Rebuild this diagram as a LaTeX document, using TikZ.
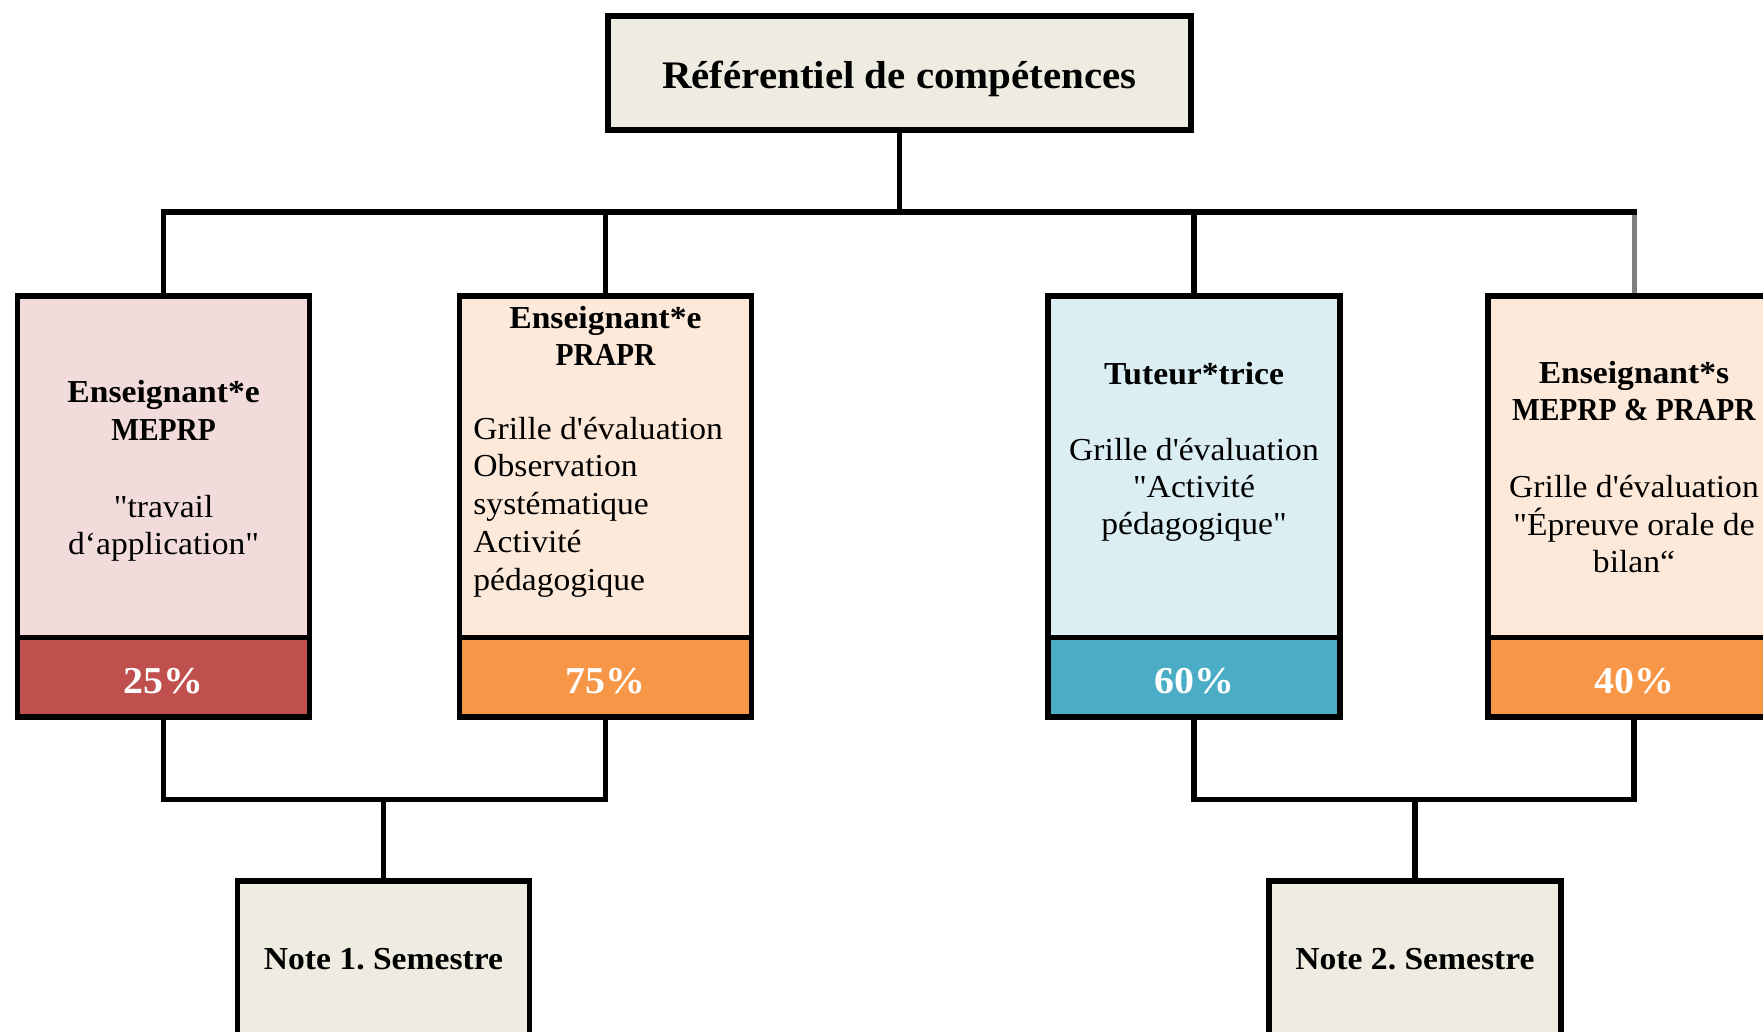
\documentclass[tikz,border=0pt]{standalone}
\usepackage{fontspec}
\setmainfont{Liberation Serif}[Ligatures=TeXOff,FakeStretch=1.05]
\definecolor{topfill}{HTML}{EEECE1}
\definecolor{pinkfill}{HTML}{F2DCDB}
\definecolor{redfill}{HTML}{C0504D}
\definecolor{peachfill}{HTML}{FDE9D9}
\definecolor{orangefill}{HTML}{F79646}
\definecolor{bluelight}{HTML}{DBEEF3}
\definecolor{bluefill}{HTML}{4BACC6}
\definecolor{grayline}{HTML}{808080}
\newcommand{\capsline}[1]{{\addfontfeature{FakeStretch=0.92}#1}}
\frenchspacing
\begin{document}
\begin{tikzpicture}[x=0.5pt,y=-0.5pt,
  box/.style={draw=black,line width=2.75pt,minimum width=146pt,inner sep=0pt},
  conn/.style={draw=black,line width=2.75pt},
  txt/.style={font=\fontsize{16pt}{18.6pt}\selectfont,align=center,inner sep=0pt},
  txtl/.style={font=\fontsize{16pt}{18.9pt}\selectfont,align=left,inner sep=0pt},
  head/.style={font=\fontsize{16pt}{18.2pt}\selectfont\bfseries,align=center,inner sep=0pt},
  pct/.style={font=\fontsize{19pt}{20pt}\selectfont\bfseries,text=white,inner sep=0pt,yshift=-1.7pt}]
\useasboundingbox (0,0) rectangle (1763,1032);
\clip (0,0) rectangle (1763,1032);

% top box
\node[box,fill=topfill,minimum width=291.5pt,minimum height=57pt] (top) at (899.5,73) {};
\node[font=\fontsize{19.5pt}{22pt}\selectfont\bfseries,inner sep=0pt] (ttl) at (899.5,78.6) {Référentiel de compétences};

% four boxes
\node[box,fill=pinkfill,minimum height=170.75pt] (b1u) at (163.6,466.75) {};
\node[box,fill=redfill,minimum height=39.75pt] (b1l) at (163.6,677.25) {};
\node[box,fill=peachfill,minimum height=170.75pt] (b2u) at (605.5,466.75) {};
\node[box,fill=orangefill,minimum height=39.75pt] (b2l) at (605.5,677.25) {};
\node[box,fill=bluelight,minimum height=170.75pt] (b3u) at (1194,466.75) {};
\node[box,fill=bluefill,minimum height=39.75pt] (b3l) at (1194,677.25) {};
\node[box,fill=peachfill,minimum height=170.75pt] (b4u) at (1634,466.75) {};
\node[box,fill=orangefill,minimum height=39.75pt] (b4l) at (1634,677.25) {};

% note boxes
\node[box,fill=topfill,minimum height=110pt] (n1) at (383.5,991) {};
\node[box,fill=topfill,minimum height=110pt] (n2) at (1415,991) {};

% texts
\node[txt] (t1) at (163.6,471) {\textbf{Enseignant*e}\\\textbf{\capsline{MEPRP}}\\[20pt]"travail\\d‘application"};
\node[head] (t2h) at (605.5,336) {Enseignant*e\\\capsline{PRAPR}};
\node[txtl,anchor=west] (t2b) at (473,507) {Grille d'évaluation\\Observation\\systématique\\Activité\\pédagogique};
\node[txt] (t3) at (1194,452) {\textbf{Tuteur*trice}\\[19pt]Grille d'évaluation\\"Activité\\pédagogique"};
\node[txt] (t4) at (1634,467) {\textbf{Enseignant*s}\\\textbf{\capsline{MEPRP \& PRAPR}}\\[20pt]Grille d'évaluation\\"Épreuve orale de\\bilan“};

\node[pct] (p1) at (b1l.center) {25\%};
\node[pct] (p2) at (b2l.center) {75\%};
\node[pct] (p3) at (b3l.center) {60\%};
\node[pct] (p4) at (b4l.center) {40\%};

\node[head] (nt1) at (383.5,959) {Note 1. Semestre};
\node[head] (nt2) at (1415,959) {Note 2. Semestre};

% connectors top
\coordinate (bus) at (899.5,212);
\draw[line width=2.5pt,draw=grayline] (b4u.north) -- (b4u.north |- bus);
\draw[conn,line cap=rect] (b1u.north) -- (b1u.north |- bus) -- (b4u.north |- bus);
\draw[conn] (top.south) -- (bus);
\draw[conn] (b2u.north) -- (b2u.north |- bus);
\draw[conn] (b3u.north) -- (b3u.north |- bus);

% connectors bottom
\coordinate (j1) at (383.5,799.5);
\coordinate (j2) at (1415,799.5);
\draw[conn] (b1l.south) -- (b1l.south |- j1) -- (b2l.south |- j1) -- (b2l.south);
\draw[conn] (j1) -- (n1.north);
\draw[conn] (b3l.south) -- (b3l.south |- j2) -- (b4l.south |- j2) -- (b4l.south);
\draw[conn] (j2) -- (n2.north);
\end{tikzpicture}
\end{document}
